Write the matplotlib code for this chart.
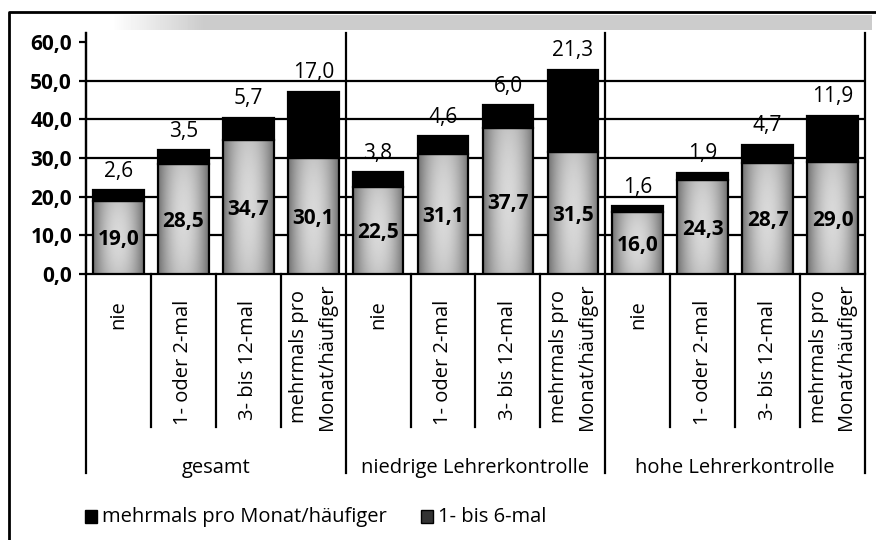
import numpy as np
import matplotlib
matplotlib.use('Agg')
import matplotlib.pyplot as plt
from matplotlib.patches import Rectangle
from matplotlib.lines import Line2D
import matplotlib.transforms as mtransforms

plt.rcParams['font.family'] = ['Open Sans', 'DejaVu Sans']

groups = ['gesamt', 'niedrige Lehrerkontrolle', 'hohe Lehrerkontrolle']
categories = ['nie', '1- oder 2-mal', '3- bis 12-mal', 'mehrmals pro\nMonat/häufiger']

# "1- bis 6-mal" (unteres Segment) und "mehrmals pro Monat/häufiger" (oberes Segment)
low_values = [19.0, 28.5, 34.7, 30.1,
              22.5, 31.1, 37.7, 31.5,
              16.0, 24.3, 28.7, 29.0]
high_values = [2.6, 3.5, 5.7, 17.0,
               3.8, 4.6, 6.0, 21.3,
               1.6, 1.9, 4.7, 11.9]
yticks = [0, 10, 20, 30, 40, 50, 60]

W, H = 876, 540
fig = plt.figure(figsize=(W / 100, H / 100), dpi=100)
fig.patch.set_facecolor('white')

def fx(px):
    return px / W

def fy(py):
    return 1 - py / H

# plot area: x 86..865, y 33..274 (pixels)
ax = fig.add_axes([fx(86), fy(274), fx(865) - fx(86), (274 - 33) / H])

x = np.arange(len(low_values))
bw = 0.78
lw = 1.6

for yv in yticks[1:-1]:
    ax.axhline(yv, color='black', lw=lw, zorder=1)

low_bars = ax.bar(x, low_values, bw, facecolor='none', edgecolor='black',
                  linewidth=lw, zorder=4)
ax.bar(x, high_values, bw, bottom=low_values, color='black',
       edgecolor='black', linewidth=lw, zorder=4)

# grey shading of the lower segments
u = np.linspace(0, 1, 40)
w = np.linspace(0, 1, 60)
U, Wg = np.meshgrid(u, w)
shade = 0.45 + 0.40 * (1 - (2 * U - 1) ** 2) * (0.8 + 0.2 * (1 - (2 * Wg - 1) ** 2))
for bar in low_bars:
    x0 = bar.get_x()
    im = ax.imshow(shade, cmap='gray', vmin=0, vmax=1, aspect='auto',
                   extent=[x0, x0 + bar.get_width(), 0, bar.get_height()],
                   zorder=3, interpolation='bilinear')
    im.set_clip_path(bar)

# value labels
for xi, lo, hi in zip(x, low_values, high_values):
    ax.text(xi, lo / 2 - 0.6, f'{lo:.1f}'.replace('.', ','), ha='center',
            va='center', fontsize=15, fontweight='bold', zorder=6)
    ax.annotate(f'{hi:.1f}'.replace('.', ','), (xi, lo + hi),
                xytext=(0, 6), textcoords='offset points', ha='center',
                va='bottom', fontsize=15, zorder=6)

ax.set_xlim(-0.5, len(x) - 0.5)
ax.set_ylim(0, 62.3)
ax.set_yticks(yticks)
ax.set_yticklabels([f'{v:.1f}'.replace('.', ',') for v in yticks],
                   fontsize=15, fontweight='bold')
ax.tick_params(axis='y', direction='out', length=5, width=lw, pad=5)
ax.set_xticks([])
for side in ['top', 'right']:
    ax.spines[side].set_visible(False)
for side in ['left', 'bottom']:
    ax.spines[side].set_linewidth(lw)
ax.patch.set_alpha(0)

trans = mtransforms.blended_transform_factory(ax.transData, ax.transAxes)
y_long = (274 - 473) / (274 - 33)
y_short = (274 - 427) / (274 - 33)
for xv in [-0.5, 3.5, 7.5, 11.5]:
    ax.plot([xv, xv], [1, y_long], color='black', lw=lw, transform=trans,
            clip_on=False, zorder=5)
for xv in [0.5, 1.5, 2.5, 4.5, 5.5, 6.5, 8.5, 9.5, 10.5]:
    ax.plot([xv, xv], [0, y_short], color='black', lw=lw, transform=trans,
            clip_on=False, zorder=5)

# category labels (rotated)
for gi in range(len(groups)):
    for ci, cat in enumerate(categories):
        xi = gi * len(categories) + ci
        ytop = 300 if '\n' not in cat else 283
        ax.text(xi, (274 - ytop) / (274 - 33), cat, rotation=90, ha='center',
                va='top', fontsize=14.5, multialignment='center',
                linespacing=1.5, transform=trans)
    ax.text(gi * 4 + 1.5, (274 - 468) / (274 - 33), groups[gi], ha='center',
            va='center', fontsize=14.5, transform=trans)

# legend
fig.add_artist(Rectangle((fx(85), fy(523)), fx(12), 13 / H, facecolor='black',
                         edgecolor='black', transform=fig.transFigure))
fig.text(fx(102), fy(517), 'mehrmals pro Monat/häufiger', va='center',
         ha='left', fontsize=14.5)
fig.add_artist(Rectangle((fx(421), fy(523)), fx(12), 13 / H, facecolor='#333333',
                         edgecolor='black', transform=fig.transFigure))
fig.text(fx(438), fy(517), '1- bis 6-mal', va='center', ha='left', fontsize=14.5)

# outer frame
fig.add_artist(Line2D([fx(9), fx(9), fx(876)], [fy(540), fy(12), fy(12)],
                      color='black', lw=2, transform=fig.transFigure))

# scanned grey band under the top frame line
band = fig.add_axes([fx(110), fy(30), fx(872) - fx(110), 15 / H])
bu = np.linspace(0, 1, 200)
fade = np.clip(bu / 0.12, 0, 1)
band.imshow((1 - 0.2 * fade)[None, :], cmap='gray', vmin=0, vmax=1,
            aspect='auto', interpolation='bilinear')
band.axis('off')

fig.savefig('out.png', dpi=100)
